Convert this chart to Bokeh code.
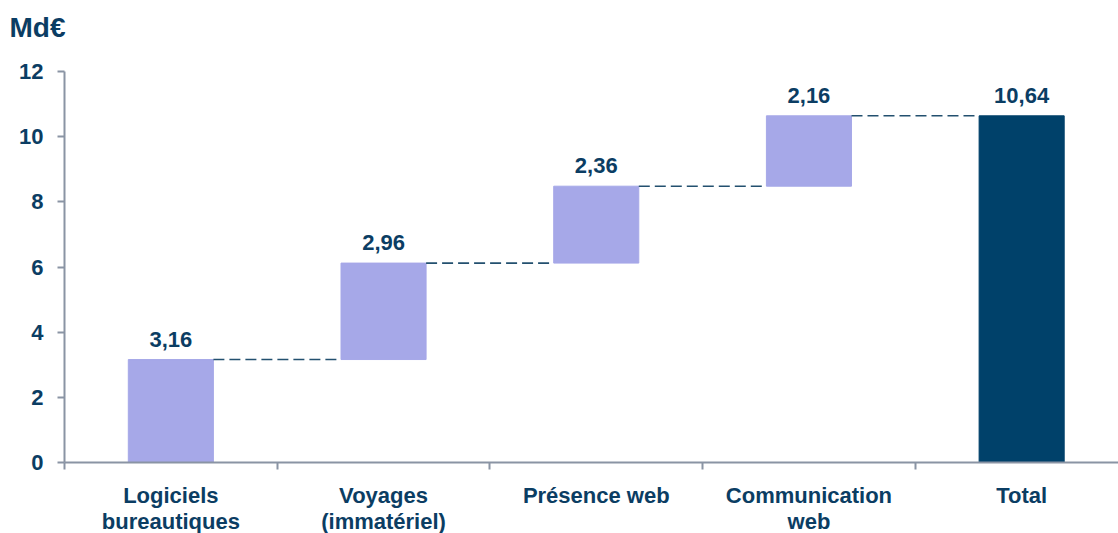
import numpy as np
from bokeh.plotting import figure
from bokeh.models import Range1d, FixedTicker, ColumnDataSource
from bokeh.core.properties import value
from bokeh.embed import file_html
from bokeh.resources import INLINE

# ---- data ----
categories = ["Logiciels\nbureautiques", "Voyages\n(immatériel)", "Présence web",
              "Communication\nweb", "Total"]
steps = [3.16, 2.96, 2.36, 2.16]
total = 10.64
value_labels = ["3,16", "2,96", "2,36", "2,16", "10,64"]
y_ticks = [0, 2, 4, 6, 8, 10, 12]
unit_label = "Md€"

# ---- derived ----
ends = list(np.cumsum(steps))
starts = [0.0] + ends[:-1]
xs = list(range(len(categories)))
bar_bottoms = starts + [0.0]
bar_tops = ends + [total]
colors = ["#a6a8e8"] * len(steps) + ["#00416a"]

TXT = "#0b3d63"
AXC = "#8a94a4"
FONT = "Liberation Sans"

# layout (pixels): frame fills the canvas; axes are drawn at fixed locations
W, H = 1118, 533
AX_LEFT, AX_TOP, AX_BOTTOM = 64, 71, 462
px_per_x = 212.7
px_per_y = (AX_BOTTOM - AX_TOP) / (y_ticks[-1] - y_ticks[0])
x0_cat = -0.5
x_start = x0_cat - AX_LEFT / px_per_x
x_end = x0_cat + (W - AX_LEFT) / px_per_x
y_start = y_ticks[0] - (H - AX_BOTTOM) / px_per_y
y_end = y_ticks[-1] + AX_TOP / px_per_y

p = figure(width=W, height=H, output_backend="svg", toolbar_location=None,
           x_range=Range1d(x_start, x_end), y_range=Range1d(y_start, y_end),
           min_border_left=0, min_border_right=0, min_border_top=0,
           min_border_bottom=0)
p.outline_line_color = None
p.xgrid.visible = False
p.ygrid.visible = False
p.background_fill_color = "white"
p.border_fill_color = "white"

src = ColumnDataSource(dict(x=xs, bottom=bar_bottoms, top=bar_tops, color=colors,
                            label=value_labels))
p.vbar(x="x", bottom="bottom", top="top", width=0.4, color="color", source=src)

# connectors
p.segment(x0=[i + 0.2 for i in range(len(ends))], x1=[i + 0.8 for i in range(len(ends))],
          y0=ends, y1=ends, line_color="#23506f", line_width=1.6, line_dash="11 5")

p.text(x="x", y="top", text="label", source=src, text_align="center",
       text_baseline="bottom", y_offset=-13, text_font=value(FONT),
       text_font_style="bold", text_font_size="22px", text_color=TXT)

# unit label, top-left
p.text(x=[x0_cat], y=[y_ticks[-1]], text=[unit_label], text_align="left",
       text_baseline="bottom", x_offset=-55, y_offset=-29, text_font=value(FONT),
       text_font_style="bold", text_font_size="28px", text_color=TXT)

# axes
xa = p.xaxis[0]
xa.fixed_location = 0
xa.bounds = (x0_cat, x_end)
xa.ticker = FixedTicker(ticks=xs, minor_ticks=[i + 0.5 for i in range(-1, len(categories) - 1)])
xa.major_label_overrides = {i: c for i, c in zip(xs, categories)}
xa.major_tick_line_color = None
xa.major_tick_out = 0
xa.major_tick_in = 0
xa.minor_tick_out = 7
xa.minor_tick_in = 0
xa.minor_tick_line_color = AXC
xa.minor_tick_line_width = 2
xa.axis_line_color = AXC
xa.axis_line_width = 2
xa.major_label_standoff = 13
xa.major_label_text_font = FONT
xa.major_label_text_font_style = "bold"
xa.major_label_text_font_size = "22px"
xa.major_label_text_color = TXT
xa.major_label_text_line_height = 1.05

ya = p.yaxis[0]
ya.fixed_location = x0_cat
ya.bounds = (y_ticks[0], y_ticks[-1])
ya.ticker = FixedTicker(ticks=y_ticks, minor_ticks=[])
ya.major_tick_out = 7
ya.major_tick_in = 0
ya.major_tick_line_color = AXC
ya.major_tick_line_width = 2
ya.axis_line_color = AXC
ya.axis_line_width = 2
ya.major_label_standoff = 14
ya.major_label_text_font = FONT
ya.major_label_text_font_style = "bold"
ya.major_label_text_font_size = "22px"
ya.major_label_text_color = TXT

open("out.html", "w").write(file_html(p, INLINE))
